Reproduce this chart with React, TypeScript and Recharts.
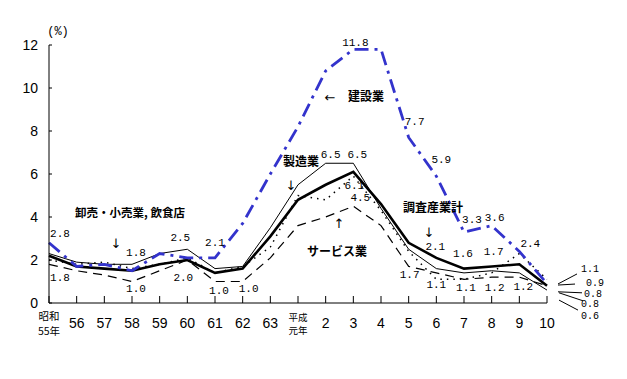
import { LineChart, Line, XAxis, YAxis, ReferenceDot } from "recharts";

// 年次 (昭和55年〜平成10年)
const years = [
  "昭和55年", "56", "57", "58", "59", "60", "61", "62", "63",
  "平成元年", "2", "3", "4", "5", "6", "7", "8", "9", "10",
];

// 調査産業計
const total = [2.2, 1.7, 1.6, 1.5, 1.8, 2.0, 1.4, 1.6, 3.1, 4.8, 5.5, 6.1, 4.6, 2.8, 2.1, 1.6, 1.7, 1.8, 0.8];
// 製造業
const manufacturing = [2.3, 1.9, 1.8, 1.8, 2.3, 2.5, 1.6, 1.7, 3.5, 5.5, 6.5, 6.5, 4.4, 2.5, 1.6, 1.4, 1.5, 1.4, 0.6];
// 卸売・小売業, 飲食店
const wholesale = [2.0, 1.8, 1.9, 1.6, 1.8, 2.1, 1.4, 1.7, 2.6, 5.0, 4.8, 5.9, 4.3, 2.4, 1.1, 1.1, 1.4, 2.3, 1.1];
// サービス業
const services = [1.8, 1.5, 1.3, 1.0, 1.5, 2.0, 1.0, 1.0, 2.1, 3.6, 4.0, 4.5, 3.6, 1.7, 1.4, 1.1, 1.2, 1.2, 0.8];
// 建設業
const construction = [2.8, 1.7, 1.8, 1.5, 2.3, 2.1, 2.1, 3.7, 6.0, 8.2, 10.8, 11.8, 11.8, 7.7, 5.9, 3.3, 3.6, 2.4, 0.9];

const yTicks = [0, 2, 4, 6, 8, 10, 12];

const data = years.map((year, i) => ({
  year,
  total: total[i],
  manufacturing: manufacturing[i],
  wholesale: wholesale[i],
  services: services[i],
  construction: construction[i],
}));

type Key = "total" | "manufacturing" | "wholesale" | "services" | "construction";

// which points carry a value label, and where the text sits relative to the point
const valueLabels: { key: Key; i: number; dx: number; dy: number }[] = [
  { key: "construction", i: 0, dx: 11, dy: -10 },
  { key: "services", i: 0, dx: 11, dy: 13 },
  { key: "manufacturing", i: 3, dx: 4, dy: -12 },
  { key: "services", i: 3, dx: 4, dy: 6 },
  { key: "manufacturing", i: 5, dx: -7, dy: -12 },
  { key: "total", i: 5, dx: -4, dy: 17 },
  { key: "construction", i: 6, dx: 0, dy: -16 },
  { key: "services", i: 6, dx: 4, dy: 8 },
  { key: "services", i: 7, dx: 6, dy: 6 },
  { key: "construction", i: 11, dx: 2, dy: -7 },
  { key: "construction", i: 13, dx: 6, dy: -16 },
  { key: "construction", i: 14, dx: 5, dy: -17 },
  { key: "manufacturing", i: 10, dx: 5, dy: -9 },
  { key: "manufacturing", i: 11, dx: 4, dy: -9 },
  { key: "total", i: 11, dx: 1, dy: 13 },
  { key: "services", i: 11, dx: 7, dy: -9 },
  { key: "construction", i: 15, dx: 8, dy: -13 },
  { key: "construction", i: 16, dx: 3, dy: -9 },
  { key: "construction", i: 17, dx: 11, dy: -8 },
  { key: "total", i: 14, dx: -1, dy: -12 },
  { key: "total", i: 15, dx: -1, dy: -16 },
  { key: "total", i: 16, dx: 2, dy: -15 },
  { key: "services", i: 13, dx: 1, dy: 8 },
  { key: "wholesale", i: 14, dx: 0, dy: 5 },
  { key: "services", i: 15, dx: 2, dy: 8 },
  { key: "services", i: 16, dx: 3, dy: 10 },
  { key: "services", i: 17, dx: 4, dy: 9 },
];

// end-of-series labels with leader lines (平成10年)
const endLabels: { key: Key; l: [number, number, number, number]; tx: number; ty: number }[] = [
  { key: "wholesale", l: [11, 4.6, 30, -5.4], tx: 43, ty: -11 },
  { key: "construction", l: [11, 1.4, 28, 0.4], tx: 48, ty: -1 },
  { key: "total", l: [11, 6, 35, 7], tx: 46, ty: 7.5 },
  { key: "services", l: [12, 7, 36, 15], tx: 43, ty: 18 },
  { key: "manufacturing", l: [12, 10, 31, 20], tx: 43, ty: 25 },
];

const seriesData: Record<Key, number[]> = { total, manufacturing, wholesale, services, construction };

const AXIS_FONT = "'Liberation Sans', Arial, sans-serif";
const NUM_FONT = "'Liberation Mono', 'DejaVu Sans Mono', monospace";
const JP_FONT = "'Noto Sans CJK JP', 'Noto Sans', sans-serif";
const BLUE = "#3333cc";

function XTick({ x, y, payload }: any) {
  const v: string = payload.value;
  let body;
  if (v === "昭和55年") {
    body = (
      <g fontFamily={JP_FONT} fontSize={10.5} fill="#000" textAnchor="middle">
        <text x={x} y={y + 17}>昭和</text>
        <text x={x} y={y + 32}>55年</text>
      </g>
    );
  } else if (v === "平成元年") {
    body = (
      <g fontFamily={JP_FONT} fontSize={9.5} fill="#000" textAnchor="middle">
        <text x={x} y={y + 18}>平成</text>
        <text x={x} y={y + 31}>元年</text>
      </g>
    );
  } else {
    body = (
      <text x={x} y={y + 25} textAnchor="middle" fontFamily={AXIS_FONT} fontSize={14} fill="#000">
        {v}
      </text>
    );
  }
  return (
    <g>
      <line x1={x} y1={y} x2={x} y2={y - 7} stroke="#000" strokeWidth={1} />
      {body}
    </g>
  );
}

function YTick({ x, y, payload }: any) {
  return (
    <g>
      <line x1={x} y1={y} x2={x + 3} y2={y} stroke="#000" strokeWidth={1} />
      <text x={x - 11} y={y + 5} textAnchor="end" fontFamily={AXIS_FONT} fontSize={14} fill="#000">
        {payload.value}
      </text>
    </g>
  );
}

function ValueText({ cx, cy, dx, dy, text }: any) {
  if (cx == null || cy == null) return null;
  return (
    <text
      x={cx + dx}
      y={cy + dy + 4}
      textAnchor="middle"
      fontFamily={NUM_FONT}
      fontSize={11}
      fill="#000"
    >
      {text}
    </text>
  );
}

function EndText({ cx, cy, l, tx, ty, text }: any) {
  if (cx == null || cy == null) return null;
  return (
    <g>
      <line x1={cx + l[0]} y1={cy + l[1]} x2={cx + l[2]} y2={cy + l[3]} stroke="#000" strokeWidth={1} />
      <text x={cx + tx} y={cy + ty + 3.5} textAnchor="middle" fontFamily={NUM_FONT} fontSize={10} fill="#000">
        {text}
      </text>
    </g>
  );
}

const jpStyle = { fontFamily: JP_FONT, fontSize: 12, fontWeight: 700 } as const;
const arrowStyle = { fontFamily: "'DejaVu Sans', sans-serif", fontSize: 13 } as const;

export default function App() {
  return (
    <div style={{ position: "absolute", left: 0, top: 0, width: 627, height: 379, background: "#fff" }}>
      <LineChart
        width={627}
        height={379}
        data={data}
        margin={{ top: 45, right: 80, bottom: 36, left: 9 }}
      >
        <XAxis
          dataKey="year"
          height={40}
          interval={0}
          tickSize={0}
          tickMargin={0}
          tickLine={false}
          axisLine={{ stroke: "#000", strokeWidth: 1 }}
          tick={<XTick />}
        />
        <YAxis
          width={40}
          domain={[0, 12]}
          ticks={yTicks}
          tickSize={0}
          tickMargin={0}
          tickLine={false}
          axisLine={{ stroke: "#000", strokeWidth: 1 }}
          tick={<YTick />}
        />
        <Line
          dataKey="services"
          stroke="#000"
          strokeWidth={1.2}
          strokeDasharray="9 6"
          dot={false}
          type="linear"
          isAnimationActive={false}
        />
        <Line
          dataKey="wholesale"
          stroke="#000"
          strokeWidth={1.5}
          strokeDasharray="1.5 5"
          dot={false}
          type="linear"
          isAnimationActive={false}
        />
        <Line
          dataKey="manufacturing"
          stroke="#000"
          strokeWidth={1}
          dot={false}
          type="linear"
          isAnimationActive={false}
        />
        <Line
          dataKey="total"
          stroke="#000"
          strokeWidth={2.6}
          dot={false}
          type="linear"
          isAnimationActive={false}
        />
        <Line
          dataKey="construction"
          stroke={BLUE}
          strokeWidth={2.8}
          strokeDasharray="14 6 3 6"
          dot={false}
          type="linear"
          isAnimationActive={false}
        />
        {valueLabels.map((v, n) => {
          const value = seriesData[v.key][v.i];
          return (
            <ReferenceDot
              key={`v${n}`}
              x={years[v.i]}
              y={value}
              r={1}
              ifOverflow="visible"
              shape={(p: any) => <ValueText {...p} dx={v.dx} dy={v.dy} text={value.toFixed(1)} />}
            />
          );
        })}
        {endLabels.map((e, n) => {
          const last = years.length - 1;
          const value = seriesData[e.key][last];
          return (
            <ReferenceDot
              key={`e${n}`}
              x={years[last]}
              y={value}
              r={1}
              ifOverflow="visible"
              shape={(p: any) => <EndText {...p} l={e.l} tx={e.tx} ty={e.ty} text={value.toFixed(1)} />}
            />
          );
        })}
      </LineChart>
      <svg
        width={627}
        height={379}
        style={{ position: "absolute", left: 0, top: 0, pointerEvents: "none" }}
      >
        <text x={58} y={35} textAnchor="middle" fontFamily={NUM_FONT} fontSize={12} fill="#000">(%)</text>
        <text x={330} y={102} textAnchor="middle" {...arrowStyle}>←</text>
        <text x={366} y={101} textAnchor="middle" {...jpStyle}>建設業</text>
        <text x={301} y={166} textAnchor="middle" {...jpStyle}>製造業</text>
        <text x={291} y={190} textAnchor="middle" {...arrowStyle}>↓</text>
        <text x={130} y={217} textAnchor="middle" {...jpStyle} fontSize={11.5}>卸売・小売業, 飲食店</text>
        <text x={116} y={248} textAnchor="middle" {...arrowStyle}>↓</text>
        <text x={433} y={212} textAnchor="middle" {...jpStyle}>調査産業計</text>
        <text x={429} y={237} textAnchor="middle" {...arrowStyle}>↓</text>
        <text x={339} y={228} textAnchor="middle" {...arrowStyle}>↑</text>
        <text x={337} y={256} textAnchor="middle" {...jpStyle}>サービス業</text>
      </svg>
    </div>
  );
}
